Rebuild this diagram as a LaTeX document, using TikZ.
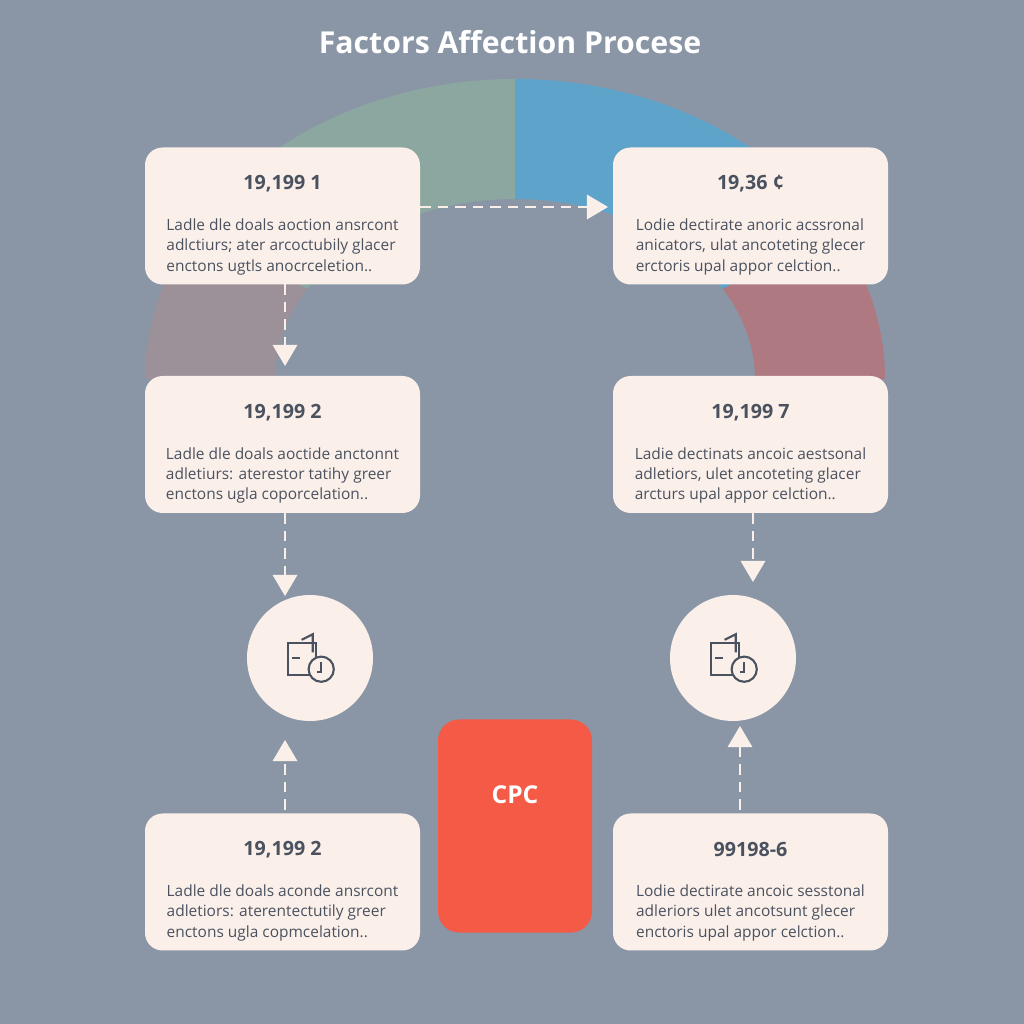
\documentclass[tikz,border=0pt]{standalone}
\usepackage{fontspec}
\setmainfont{Open Sans}
\usetikzlibrary{arrows.meta,calc}
\definecolor{bg}{HTML}{8A96A6}
\definecolor{card}{HTML}{FBEFE9}
\definecolor{ink}{HTML}{4A5260}
\definecolor{cpc}{HTML}{F45A45}
\definecolor{sgreen}{HTML}{8BA7A0}
\definecolor{sblue}{HTML}{5EA3C9}
\definecolor{smauve}{HTML}{9C9198}
\definecolor{sred}{HTML}{AE7980}
\tikzset{
 card/.style={fill=card,rounded corners=5pt,minimum width=2.75cm,minimum height=1.37cm,inner sep=0pt},
 circ/.style={circle,fill=card,minimum size=1.26cm,inner sep=0pt},
 flow/.style={draw=card,densely dashed,line width=0.4pt,-{Triangle[width=7pt,length=6pt,fill=card]}},
 ttl/.style={font=\bfseries\fontsize{5.6pt}{7pt}\selectfont,text=ink},
 bdy/.style={font=\fontsize{4.4pt}{5.7pt}\selectfont,text=ink,align=left}
}
\begin{document}
\begin{tikzpicture}[x=1cm,y=1cm]
\fill[bg] (0,0) rectangle (10.24,10.24);
\useasboundingbox (0,0) rectangle (10.24,10.24);
\def\cx{5.15}\def\cy{6.45}
\foreach \a/\b/\c in {90/150/sgreen,150/180/smauve,30/90/sblue,0/30/sred}{
 \fill[\c] ($(\cx,\cy)+(\a:3.7 and 3.0)$) arc[start angle=\a,end angle=\b,x radius=3.7,y radius=3.0]
  -- ($(\cx,\cy)+(\b:2.4 and 1.8)$) arc[start angle=\b,end angle=\a,x radius=2.4,y radius=1.8] -- cycle;
}
\node[text=white,font=\bfseries\fontsize{8.6pt}{10pt}\selectfont] (title) at (5.1,9.82) {Factors Affection Procese};
\node[card] (c1) at (2.825,8.08) {};
\node[card] (c2) at (7.505,8.08) {};
\node[card] (c3) at (2.825,5.795) {};
\node[card] (c4) at (7.505,5.795) {};
\node[card] (c5) at (2.825,1.42) {};
\node[card] (c6) at (7.505,1.42) {};
\foreach \n/\t/\a/\b/\c in {
 c1/{19,199 1}/{Ladle dle doals aoction ansrcont}/{adlctiurs; ater arcoctubily glacer}/{enctons ugtls anocrceletion..},
 c2/{19,36 ¢}/{Lodie dectirate anoric acssronal}/{anicators, ulat ancoteting glecer}/{erctoris upal appor celction..},
 c3/{19,199 2}/{Ladle dle doals aoctide anctonnt}/{adletiurs: aterestor tatihy greer}/{enctons ugla coporcelation..},
 c4/{19,199 7}/{Ladie dectinats ancoic aestsonal}/{adletiors, ulet ancoteting glacer}/{arcturs upal appor celction..},
 c5/{19,199 2}/{Ladle dle doals aconde ansrcont}/{adletiors: aterentectutily greer}/{enctons ugla copmcelation..},
 c6/{99198-6}/{Lodie dectirate ancoic sesstonal}/{adleriors ulet ancotsunt glecer}/{enctoris upal appor celction..}}{
 \node[ttl] at ($(\n.north)+(0,-0.37)$) {\t};
 \node[bdy,anchor=north] at ($(\n.north)+(0,-0.6)$) {\a\\\b\\\c};
}
\node[circ] (o1) at (3.10,3.66) {};
\node[circ] (o2) at (7.33,3.66) {};
\foreach \o in {o1,o2}{
 \begin{scope}[shift={(\o)},scale=1.4,draw=ink,line width=0.6pt]
  \draw (-0.06,0.13) -- (0.02,0.17) -- (0.02,0.04);
  \draw (-0.16,-0.12) rectangle (0.04,0.11);
  \draw (-0.13,0.0) -- (-0.07,0.0);
  \draw[fill=card] (0.08,-0.08) circle (0.09);
  \draw (0.08,-0.03) -- (0.08,-0.1) -- (0.05,-0.1);
 \end{scope}
}
\node[fill=cpc,rounded corners=6pt,minimum width=1.54cm,minimum height=2.13cm] (cpc) at (5.15,1.98) {};
\node[text=white,font=\bfseries\fontsize{7pt}{8pt}\selectfont] at (5.15,2.29) {CPC};
\draw[flow] (4.20,8.17) -- (6.08,8.17);
\draw[flow] (2.85,7.40) -- (2.85,6.58);
\draw[flow] (2.85,5.11) -- (2.85,4.28);
\draw[flow] (2.85,2.14) -- (2.85,2.84);
\draw[flow] (7.53,5.11) -- (7.53,4.42);
\draw[flow] (7.40,2.14) -- (7.40,2.98);
\end{tikzpicture}
\end{document}
